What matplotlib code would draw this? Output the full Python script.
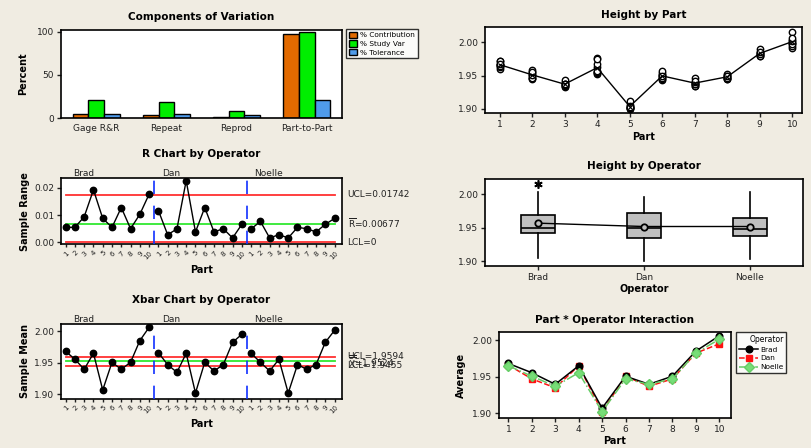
import matplotlib
matplotlib.use('Agg')
import matplotlib.pyplot as plt
import numpy as np
from matplotlib.patches import Patch
import matplotlib.transforms as mtrans

plt.rcParams['font.family'] = ['DejaVu Sans']
plt.rcParams['mathtext.fontset'] = 'dejavusans'

# ---------------- data ----------------
components = ['Gage R&R', 'Repeat', 'Reprod', 'Part-to-Part']
pct_contribution = [4.5, 4.0, 0.8, 97.8]
pct_study_var = [20.5, 18.8, 8.0, 99.8]
pct_tolerance = [4.8, 4.5, 2.9, 20.8]

operators = ['Brad', 'Dan', 'Noelle']
parts = list(range(1, 11))

# sample ranges per operator (parts 1..10)
range_brad = [0.0055, 0.0055, 0.0094, 0.0193, 0.0088, 0.0055, 0.0128, 0.0050, 0.0103, 0.0177]
range_dan = [0.0117, 0.0028, 0.0049, 0.0227, 0.0038, 0.0128, 0.0038, 0.0050, 0.0016, 0.0066]
range_noelle = [0.0049, 0.0077, 0.0016, 0.0028, 0.0016, 0.0055, 0.0050, 0.0038, 0.0066, 0.0088]
r_ucl, r_bar, r_lcl = 0.01742, 0.00677, 0.0

# sample means per operator (parts 1..10)
mean_brad = [1.9683, 1.9556, 1.9397, 1.9651, 1.9069, 1.9508, 1.9397, 1.9508, 1.9852, 2.0063]
mean_dan = [1.9661, 1.9471, 1.9349, 1.9651, 1.9021, 1.9508, 1.9370, 1.9471, 1.9825, 1.9952]
mean_noelle = [1.9651, 1.9508, 1.9370, 1.9556, 1.9021, 1.9471, 1.9397, 1.9471, 1.9825, 2.0016]
x_ucl, x_bar, x_lcl = 1.9594, 1.9524, 1.9455

# individual measurements (3 trials) per operator and part
meas_brad = [[1.9660, 1.9675, 1.9715], [1.9530, 1.9555, 1.9585], [1.9350, 1.9400, 1.9440],
             [1.9560, 1.9630, 1.9760], [1.9030, 1.9060, 1.9115], [1.9480, 1.9510, 1.9535],
             [1.9340, 1.9380, 1.9470], [1.9480, 1.9510, 1.9530], [1.9800, 1.9850, 1.9905],
             [1.9990, 2.0040, 2.0160]]
meas_dan = [[1.9600, 1.9665, 1.9717], [1.9455, 1.9470, 1.9488], [1.9325, 1.9350, 1.9372],
            [1.9530, 1.9670, 1.9757], [1.9000, 1.9020, 1.9043], [1.9440, 1.9510, 1.9574],
            [1.9350, 1.9370, 1.9390], [1.9445, 1.9470, 1.9495], [1.9817, 1.9825, 1.9833],
            [1.9920, 1.9950, 1.9986]]
meas_noelle = [[1.9628, 1.9650, 1.9677], [1.9470, 1.9507, 1.9547], [1.9362, 1.9370, 1.9378],
               [1.9542, 1.9556, 1.9570], [1.9013, 1.9021, 1.9029], [1.9445, 1.9470, 1.9500],
               [1.9370, 1.9400, 1.9420], [1.9452, 1.9470, 1.9490], [1.9790, 1.9825, 1.9856],
               [1.9970, 2.0020, 2.0058]]

# box plot statistics by operator
box_q1 = [1.9413, 1.9348, 1.9373]
box_median = [1.9497, 1.9493, 1.9473]
box_q3 = [1.9687, 1.9711, 1.9647]
box_whislo = [1.9050, 1.9000, 1.9025]
box_whishi = [2.0025, 1.9955, 2.0025]
box_fliers = [[2.0145], [], []]
box_mean = [1.9565, 1.9515, 1.9515]

# ---------------- style ----------------
BG = '#F0ECE2'
C_OR = '#E26A00'
C_GR = '#00EE00'
C_BL = '#4F9BEA'
RED = '#FF3030'
GRN = '#30E830'
TICK = 6.5
TITLE = 7.5
LAB = 7

fig = plt.figure(figsize=(8.12, 4.48), dpi=100, facecolor=BG)


def mk_axes(l, t, r, b):
    ax = fig.add_axes([l / 812, 1 - b / 448, (r - l) / 812, (b - t) / 448])
    ax.set_facecolor('white')
    for s in ax.spines.values():
        s.set_linewidth(1.2)
        s.set_color('black')
    ax.tick_params(direction='out', length=3, width=1, labelsize=TICK, pad=2, colors='#222222')
    return ax


# ---------------- 1: Components of Variation ----------------
ax1 = mk_axes(61, 29.5, 342, 118)
xc = np.arange(len(components))
w = 0.224
ax1.bar(xc - w, pct_contribution, w, color=C_OR, edgecolor='black', linewidth=1, label='% Contribution')
ax1.bar(xc, pct_study_var, w, color=C_GR, edgecolor='black', linewidth=1, label='% Study Var')
ax1.bar(xc + w, pct_tolerance, w, color=C_BL, edgecolor='black', linewidth=1, label='% Tolerance')
ax1.set_xlim(-0.5, 3.5)
ax1.set_ylim(0, 102.5)
ax1.set_yticks([0, 50, 100])
ax1.set_xticks(xc)
ax1.set_xticklabels(components)
ax1.tick_params(axis='x', length=0, pad=4)
ax1.set_title('Components of Variation', fontsize=TITLE, fontweight='bold', pad=7)
ax1.set_ylabel('Percent', fontsize=LAB, fontweight='bold', labelpad=6)
leg1 = fig.legend(handles=[Patch(facecolor=C_OR, edgecolor='black'),
                           Patch(facecolor=C_GR, edgecolor='black'),
                           Patch(facecolor=C_BL, edgecolor='black')],
                  labels=['% Contribution', '% Study Var', '% Tolerance'],
                  loc='upper left', bbox_to_anchor=(346.5 / 812, 1 - 29 / 448),
                  fontsize=5.3, frameon=True, fancybox=False, handlelength=1.1, handleheight=1.0,
                  handletextpad=0.4, borderpad=0.35, labelspacing=0.25, borderaxespad=0)
leg1.get_frame().set_edgecolor('black')
leg1.get_frame().set_linewidth(1.0)

# ---------------- 2: Height by Part ----------------
ax2 = mk_axes(485, 27.3, 802, 113.3)
all_meas = [meas_brad, meas_dan, meas_noelle]
part_means = []
for i, p in enumerate(parts):
    vals = []
    for m in all_meas:
        vals.extend(m[i])
    part_means.append(np.mean(vals))
    ax2.plot([p] * len(vals), vals, 'o', ms=4.6, mfc='white', mec='black', mew=1.0, zorder=3)
ax2.plot(parts, part_means, '-', color='black', lw=1, marker='x', ms=3, mew=0.8, zorder=4)
ax2.set_xlim(0.55, 10.3)
ax2.set_ylim(1.8935, 2.0225)
ax2.set_xticks(parts)
ax2.set_yticks([1.90, 1.95, 2.00])
ax2.set_yticklabels(['1.90', '1.95', '2.00'])
ax2.set_title('Height by Part', fontsize=TITLE, fontweight='bold', pad=7)
ax2.set_xlabel('Part', fontsize=LAB, fontweight='bold', labelpad=2)


# ---------------- control chart helper ----------------
def control_chart(ax, series, ucl, cl, lcl, ylim, yticks, yfmt, ylabel, title, labels):
    for k, s in enumerate(series):
        xs = np.arange(1, 11) + 10 * k
        ax.plot(xs, s, '-o', color='black', lw=1, ms=4.6, zorder=4)
    ax.plot([1, 30], [ucl, ucl], color=RED, lw=1.3, zorder=2)
    ax.plot([1, 30], [lcl, lcl], color=RED, lw=1.3, zorder=2)
    ax.plot([1, 30], [cl, cl], color=GRN, lw=1.3, zorder=2)
    for xv in (10.55, 20.55):
        ax.axvline(xv, color='#1030FF', lw=1.2, ls=(0, (8, 7)), zorder=3)
    ax.set_xlim(0.5, 30.8)
    ax.set_ylim(*ylim)
    ax.set_yticks(yticks)
    ax.set_yticklabels([yfmt % v for v in yticks])
    ax.set_xticks(np.arange(1, 31))
    ax.set_xticklabels([str(i) for i in parts] * 3, rotation=45, ha='right',
                       rotation_mode='anchor', fontsize=5)
    ax.tick_params(axis='x', length=2.5, pad=1.5)
    ax.set_ylabel(ylabel, fontsize=LAB, fontweight='bold', labelpad=3)
    ax.set_xlabel('Part', fontsize=LAB, fontweight='bold', labelpad=3)
    ax.set_title(title, fontsize=TITLE, fontweight='bold', pad=15)
    for name, xv in zip(operators, (3.0, 12.4, 22.9)):
        ax.text(xv, 1.0, name, transform=mtrans.blended_transform_factory(ax.transData, ax.transAxes),
                ha='center', va='bottom', fontsize=TICK, color='#222222')
    tr = mtrans.blended_transform_factory(ax.transAxes, ax.transData)
    for txt, yv in labels:
        ax.text(1.02, yv, txt, transform=tr, ha='left', va='center', fontsize=TICK, color='#222222')


ax3 = mk_axes(61, 178.3, 342, 244.3)
control_chart(ax3, [range_brad, range_dan, range_noelle], r_ucl, r_bar, r_lcl,
              (-0.00074, 0.02356), [0.0, 0.01, 0.02], '%.2f', 'Sample Range', 'R Chart by Operator',
              [('UCL=0.01742', r_ucl), (r'$\overline{\mathrm{R}}$=0.00677', r_bar + 0.0003), ('LCL=0', r_lcl)])

ax5 = mk_axes(61, 324, 342, 399)
control_chart(ax5, [mean_brad, mean_dan, mean_noelle], x_ucl, x_bar, x_lcl,
              (1.8926, 2.0116), [1.90, 1.95, 2.00], '%.2f', 'Sample Mean', 'Xbar Chart by Operator',
              [('UCL=1.9594', x_ucl), (r'$\overline{\overline{\mathrm{X}}}$=1.9524', x_bar), ('LCL=1.9455', x_lcl)])

# ---------------- 4: Height by Operator ----------------
ax4 = mk_axes(485, 179, 803, 265.7)
stats = []
for k in range(3):
    stats.append(dict(med=box_median[k], q1=box_q1[k], q3=box_q3[k], whislo=box_whislo[k],
                      whishi=box_whishi[k], fliers=box_fliers[k], label=operators[k]))
ax4.bxp(stats, positions=[1, 2, 3], widths=0.33, patch_artist=True, showcaps=False,
        manage_ticks=False,
        boxprops=dict(facecolor='#C0C0C0', edgecolor='black', linewidth=1.2),
        medianprops=dict(color='black', linewidth=1.2),
        whiskerprops=dict(color='black', linewidth=1.2),
        flierprops=dict(marker=(6, 2, 0), markersize=6, markeredgecolor='black',
                        markeredgewidth=1.2, markerfacecolor='none'))
ax4.plot([1, 2, 3], box_mean, '-', color='black', lw=1, zorder=4)
ax4.plot([1, 2, 3], box_mean, 'o', ms=4.6, mfc='#C0C0C0', mec='black', mew=1.3, zorder=5)
ax4.set_xlim(0.5, 3.5)
ax4.set_ylim(1.893, 2.0224)
ax4.set_xticks([1, 2, 3])
ax4.set_xticklabels(operators)
ax4.set_yticks([1.90, 1.95, 2.00])
ax4.set_yticklabels(['1.90', '1.95', '2.00'])
ax4.set_title('Height by Operator', fontsize=TITLE, fontweight='bold', pad=7)
ax4.set_xlabel('Operator', fontsize=LAB, fontweight='bold', labelpad=2)

# ---------------- 6: Part * Operator Interaction ----------------
ax6 = mk_axes(499, 331.7, 731, 418.3)
l1, = ax6.plot(parts, mean_brad, '-o', color='black', lw=1.1, ms=4.8, zorder=5)
l2, = ax6.plot(parts, mean_dan, '--s', color='#FF1010', lw=1.1, ms=4.8, zorder=4)
l3, = ax6.plot(parts, mean_noelle, '-.D', color='#66CC66', mfc='#77DD77', mec='#66CC66',
               lw=1.1, ms=4.8, zorder=6)
ax6.set_xlim(0.6, 10.5)
ax6.set_ylim(1.893, 2.0119)
ax6.set_xticks(parts)
ax6.set_yticks([1.90, 1.95, 2.00])
ax6.set_yticklabels(['1.90', '1.95', '2.00'])
ax6.set_title('Part * Operator Interaction', fontsize=TITLE, fontweight='bold', pad=6)
ax6.set_xlabel('Part', fontsize=LAB, fontweight='bold', labelpad=1)
ax6.set_ylabel('Average', fontsize=LAB, fontweight='bold', labelpad=4)
leg6 = fig.legend(handles=[l1, l2, l3], labels=operators, title='Operator',
                  loc='upper left', bbox_to_anchor=(736 / 812, 1 - 332 / 448),
                  fontsize=5.3, title_fontsize=5.5, frameon=True, fancybox=False,
                  handlelength=2.6, handletextpad=0.3, borderpad=0.4, labelspacing=0.35,
                  borderaxespad=0)
leg6.get_frame().set_edgecolor('black')
leg6.get_frame().set_linewidth(1.0)
leg6._legend_box.align = 'right'

fig.savefig('out.png', dpi=100, facecolor=BG)
